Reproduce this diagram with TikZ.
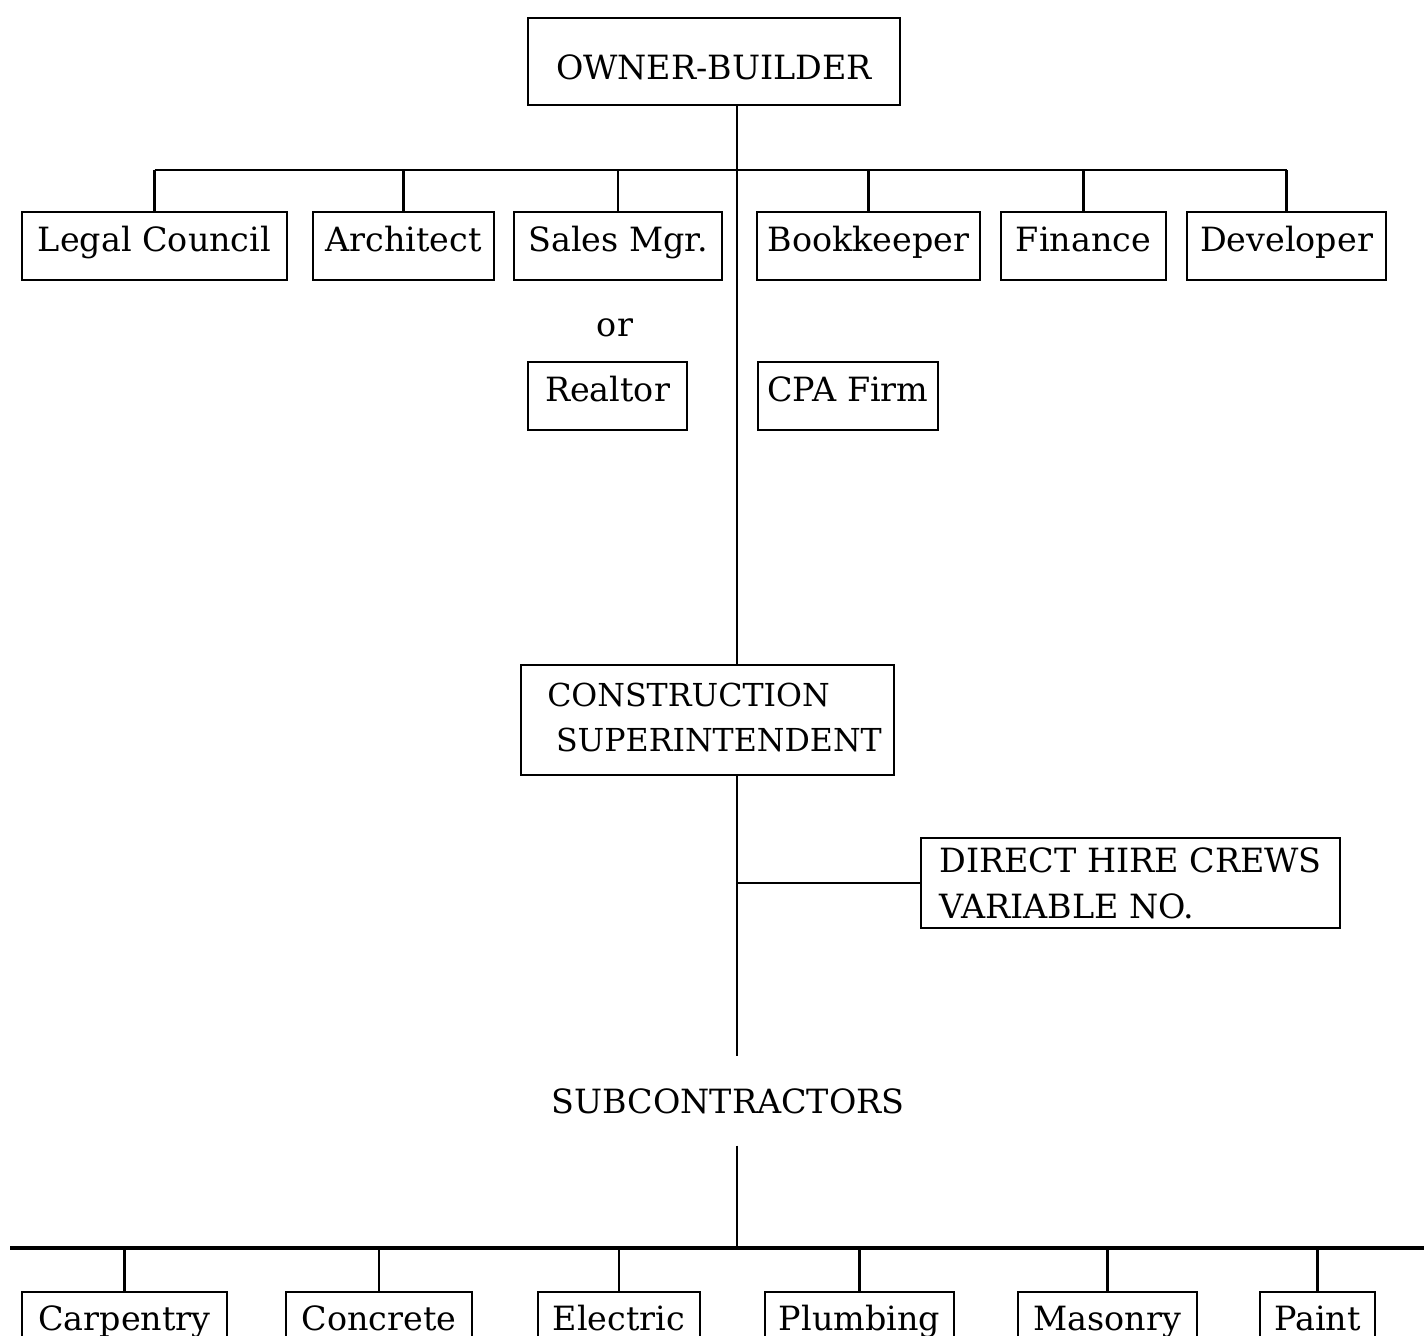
\documentclass[tikz,border=0pt]{standalone}
\usepackage{fontspec}
\setmainfont{DejaVu Serif}

\begin{document}
\begin{tikzpicture}[x=0.02cm, y=-0.02cm, line width=1.4pt,
                    every node/.style={font=\fontsize{19}{26}\selectfont, inner sep=0pt}
                   ]

    % Boxed positions, width given in picture units
    \tikzset{
        box/.style={draw, line width=1.3pt, minimum width=#1*0.02cm, minimum height=68*0.02cm,
                    text height=14pt, text depth=8pt}
    }

    \path[use as bounding box, fill=white] (0,0) rectangle (1424,1336);

    % Top of the chart
    \node[box=372, minimum height=87*0.02cm, text height=21pt, text depth=0pt] (owner) at (714, 61.5) {OWNER-BUILDER};

    % Staff row
    \node[box=265] (legal) at (154.5, 246) {Legal Council};
    \node[box=181] (arch) at (403.5, 246) {Architect};
    \node[box=208] (sales) at (618, 246) {Sales Mgr.};
    \node[box=223] (book) at (868.5, 246) {Bookkeeper};
    \node[box=165] (fin) at (1083.5, 246) {Finance};
    \node[box=199] (dev) at (1286.5, 246) {Developer};

    % Alternatives below the staff row
    \node (or) at (615, 328) {or};
    \node[box=159] (realtor) at (607.5, 396) {Realtor};
    \node[box=180] (cpa) at (848, 396) {CPA Firm};

    % Field side
    \node[box=373, minimum height=110*0.02cm, text height={}, text depth={}, align=left,
          font=\fontsize{18}{26}\selectfont] (super) at (707.5, 720)
        {\raisebox{3pt}{CONSTRUCTION}\\ \hspace*{5pt}\raisebox{3pt}{SUPERINTENDENT}\hspace*{-8pt}};
    \node[box=419, minimum height=90*0.02cm, text height={}, text depth={}, align=left] (crews) at (1130.5, 883)
        {DIRECT HIRE CREWS\\VARIABLE NO.};
    \node[minimum height=87*0.02cm] (subs) at (728, 1101) {SUBCONTRACTORS};

    % Trades row (bottoms run off the page)
    \foreach \name/\x/\w/\txt in {carp/124.5/205/Carpentry, conc/379/186/Concrete,
                                  elec/619/162/Electric, plumb/859.5/189/Plumbing,
                                  mason/1107.5/179/Masonry, paint/1317.5/115/Paint} {
        \node[box=\w, minimum height=66*0.02cm] (\name) at (\x, 1325) {\txt};
    }

    % Connections
    \coordinate (trunk) at (737, 0);
    \coordinate (staffbar) at (0, 170);
    \coordinate (tradebar) at (10, 1248);
    \coordinate (tradeend) at (1424, 1248);

    \draw (owner.south -| trunk) -- (super.north -| trunk);
    \draw (legal.north |- staffbar) -- (dev.north |- staffbar);
    \foreach \n in {legal, arch, sales, book, fin, dev} {
        \draw (\n.north) -- (\n.north |- staffbar);
    }

    \draw (super.south -| trunk) -- (subs.north -| trunk);
    \draw (trunk |- crews) -- (crews.west);
    \draw (subs.south -| trunk) -- (tradebar -| trunk);

    \draw[line width=2.2pt] (tradebar) -- (tradeend);
    \foreach \n in {carp, conc, elec, plumb, mason, paint} {
        \draw (\n.north) -- (\n.north |- tradebar);
    }

\end{tikzpicture}
\end{document}
